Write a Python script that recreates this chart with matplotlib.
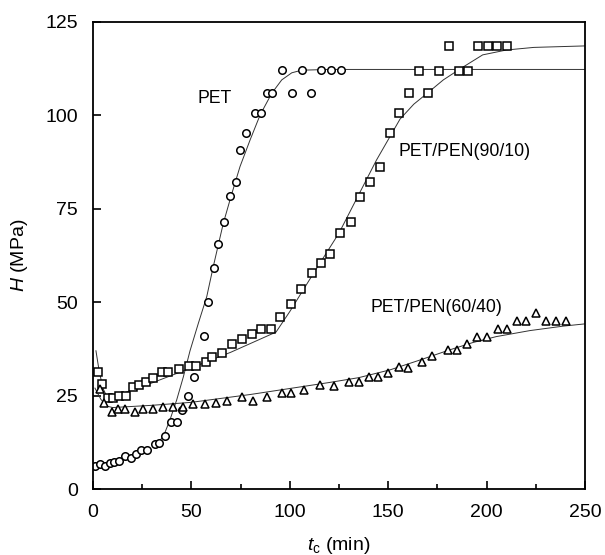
import numpy as np
import matplotlib
matplotlib.use("Agg")
import matplotlib.pyplot as plt

plt.rcParams['font.family'] = ['Liberation Sans', 'DejaVu Sans']
plt.rcParams['mathtext.fontset'] = 'custom'
plt.rcParams['mathtext.rm'] = 'Liberation Sans'
plt.rcParams['mathtext.it'] = 'Liberation Sans:italic'

# PET (circles)
pet_t = [1.0, 3.6, 6.1, 8.6, 10.8, 13.4, 16.3, 19.3, 21.7, 24.2, 27.3, 31.5, 33.7,
         36.6, 39.5, 42.5, 45.4, 48.4, 51.5, 56.4, 58.6, 61.5, 63.7, 66.7, 69.6,
         72.7, 74.7, 77.7, 82.3, 85.2, 88.2, 91.1, 96.2, 101.0, 106.0, 110.8,
         115.9, 120.8, 125.8]
pet_h = [6.2, 6.6, 6.2, 7.0, 7.1, 7.5, 8.8, 8.2, 9.4, 10.5, 10.5, 12.0, 12.4,
         14.2, 18.0, 18.0, 21.1, 25.0, 30.0, 41.0, 50.1, 59.1, 65.6, 71.5, 78.3,
         82.2, 90.7, 95.4, 100.7, 100.7, 106.1, 106.1, 112.2, 106.1, 112.2, 106.1,
         112.2, 112.2, 112.2]

# PET/PEN(90/10) (squares)
p90_t = [2.7, 4.6, 7.8, 10.3, 13.4, 16.6, 20.2, 23.5, 26.8, 30.6, 34.9, 38.3,
         43.5, 48.8, 52.3, 57.4, 60.5, 65.4, 70.5, 75.6, 80.6, 85.6, 90.4, 95.2,
         100.5, 105.5, 111.4, 115.6, 120.6, 125.5, 130.9, 135.7, 140.7, 145.8,
         150.9, 155.6, 160.6, 165.4, 170.4, 176.0, 180.9, 185.8, 190.7, 195.6,
         200.6, 205.4, 210.5]
p90_h = [31.3, 28.0, 24.4, 24.4, 25.0, 25.0, 27.2, 27.8, 28.7, 29.6, 31.2, 31.2,
         32.1, 33.0, 33.0, 34.1, 35.3, 36.3, 38.8, 40.1, 41.5, 42.9, 42.9, 46.0,
         49.5, 53.4, 57.9, 60.4, 62.8, 68.4, 71.5, 78.2, 82.3, 86.2, 95.4, 100.6,
         106.1, 112.0, 106.1, 112.0, 118.7, 112.0, 112.0, 118.7, 118.7, 118.7, 118.7]

# PET/PEN(60/40) (triangles)
p60_t = [3.4, 5.4, 9.5, 12.9, 16.3, 21.3, 25.6, 30.6, 35.7, 40.8, 45.9, 51.0,
         56.9, 62.3, 68.2, 75.5, 81.3, 88.6, 95.9, 100.4, 107.2, 115.3, 122.6,
         130.3, 135.3, 140.4, 144.9, 150.0, 155.5, 160.2, 167.0, 172.1, 180.6,
         185.2, 190.2, 195.3, 200.0, 205.9, 210.2, 215.3, 220.0, 225.1, 230.2,
         235.3, 240.3]
p60_h = [26.8, 22.9, 20.7, 21.4, 21.4, 20.5, 21.4, 21.4, 22.0, 22.0, 22.0, 22.8,
         22.8, 22.9, 23.6, 24.5, 23.6, 24.6, 25.6, 25.6, 26.5, 27.8, 27.6,
         28.7, 28.7, 29.9, 29.9, 31.1, 32.6, 32.4, 33.9, 35.6, 37.2,
         37.2, 38.8, 40.8, 40.6, 42.7, 42.7, 45.0, 45.0, 47.2, 45.0,
         45.0, 45.0]

# fitted curves
pet_fit_t = [33, 35.7, 39.1, 42.5, 45.9, 49.3, 53.5, 57.8, 61.1, 66.2, 70.5,
             74.7, 79.8, 84.9, 90.8, 95.9, 101.0, 106.0, 120, 250]
pet_fit_h = [12.5, 14.0, 18.5, 23.8, 30.0, 37.0, 44.3, 51.5, 59.5, 71.1, 79.0,
             86.3, 93.4, 100.1, 105.9, 109.5, 111.4, 112.1, 112.3, 112.3]

p90_fit_t = [1.5, 3.0, 5.0, 7.0, 10.0, 30.0, 49.3, 70.0, 93.0, 100.0, 112.0,
             125.0, 144.0, 156.0, 163.0, 170.0, 178.0, 187.0, 198.0, 210.0,
             224.0, 250.0]
p90_fit_h = [37.0, 32.0, 27.0, 24.8, 24.6, 28.4, 32.3, 36.6, 42.0, 47.5, 57.7,
             68.5, 88.0, 99.0, 103.0, 106.0, 109.5, 112.6, 116.2, 117.5,
             118.2, 118.6]

p60_fit_t = [1.0, 4.0, 7.0, 10.0, 30.0, 50.0, 80.0, 95.0, 120.0, 135.0, 151.0,
             166.0, 181.0, 193.0, 205.0, 222.0, 239.0, 250.0]
p60_fit_h = [27.0, 24.0, 22.2, 21.8, 22.4, 23.2, 25.3, 26.5, 28.5, 29.8, 31.9,
             34.5, 37.2, 39.2, 40.8, 42.4, 43.6, 44.2]

fig = plt.figure(figsize=(6.05, 5.55), dpi=100)
ax = fig.add_axes([93 / 605, 66 / 555, 492 / 605, 467 / 555])

lc = '#333333'
ax.plot(pet_fit_t, pet_fit_h, color=lc, lw=0.7)
ax.plot(p90_fit_t, p90_fit_h, color=lc, lw=0.7)
ax.plot(p60_fit_t, p60_fit_h, color=lc, lw=0.7)

mk = dict(linestyle='none', mfc='white', mec='black', mew=1.1)
ax.plot(pet_t, pet_h, marker='o', ms=5.4, **mk)
ax.plot(p90_t, p90_h, marker='s', ms=5.2, **mk)
ax.plot(p60_t, p60_h, marker='^', ms=5.4, **mk)

ax.text(62, 104.4, 'PET', fontsize=12.7, ha='center', va='center')
ax.text(155, 90.3, 'PET/PEN(90/10)', fontsize=12.7, ha='left', va='center')
ax.text(141, 48.6, 'PET/PEN(60/40)', fontsize=12.7, ha='left', va='center')

ax.set_xlim(0, 250)
ax.set_ylim(0, 125)
ax.set_xticks([0, 50, 100, 150, 200, 250])
ax.set_xticks([25, 75, 125, 175, 225], minor=True)
ax.set_yticks([0, 25, 50, 75, 100, 125])
ax.tick_params(which='both', direction='in', labelsize=14, pad=11, width=1.2)
ax.tick_params(which='major', length=6)
ax.tick_params(which='minor', length=3.8)
for s in ax.spines.values():
    s.set_linewidth(1.3)

ax.set_xlabel(r'$t_\mathrm{c}$ (min)', fontsize=14)
ax.set_ylabel(r'$H$ (MPa)', fontsize=14)
ax.xaxis.set_label_coords(0.5, -0.098)
ax.yaxis.set_label_coords(-0.128, 0.5)

fig.savefig('out.png', dpi=100)
